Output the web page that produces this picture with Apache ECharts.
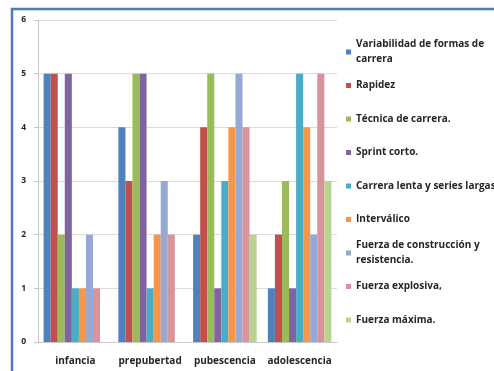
<!DOCTYPE html>
<html>
<head>
<meta charset="utf-8">
<script src="https://cdn.jsdelivr.net/npm/echarts@6/dist/echarts.min.js"></script>
<style>
  html, body { margin: 0; padding: 0; background: #ffffff; }
  #chart { width: 494px; height: 371px; }
</style>
</head>
<body>
<div id="chart"></div>
<script>
// Age stages on the category axis
const categories = ['infancia', 'prepubertad', 'pubescencia', 'adolescencia'];

// Training content series (one value per age stage)
const seriesNames = [
  'Variabilidad de formas de carrera',
  'Rapidez',
  'Técnica de carrera.',
  'Sprint corto.',
  'Carrera lenta y series largas',
  'Interválico',
  'Fuerza de construcción y resistencia.',
  'Fuerza explosiva,',
  'Fuerza máxima.'
];
const variabilidad = [5, 4, 2, 1];
const rapidez      = [5, 3, 4, 2];
const tecnica      = [2, 5, 5, 3];
const sprint       = [5, 5, 1, 1];
const carreraLenta = [1, 1, 3, 5];
const intervalico  = [1, 2, 4, 4];
const fuerzaConst  = [2, 3, 5, 2];
const fuerzaExpl   = [1, 2, 4, 5];
const fuerzaMax    = [0, 0, 2, 3];
const seriesValues = [variabilidad, rapidez, tecnica, sprint, carreraLenta,
                      intervalico, fuerzaConst, fuerzaExpl, fuerzaMax];

// Value axis ticks
const yTicks = [0, 1, 2, 3, 4, 5, 6];

const colors = ['#4f81bd', '#c0504d', '#9bbb59', '#8064a2', '#4bacc6',
                '#f79646', '#95a9d3', '#d9939a', '#b9d38f'];

const font = '"Open Sans", "DejaVu Sans", sans-serif';
const textColor = '#262626';

const chart = echarts.init(document.getElementById('chart'), null, { renderer: 'canvas' });

// One legend block per series so each entry sits on its own row slot;
// the longest names wrap onto a second line under the first.
const legends = seriesNames.map((name, i) => {
  const firstLineY = 52 + i * 33.5;
  const twoLines = name.length > 30;
  const textStyle = {
    fontFamily: font,
    fontSize: 10,
    fontWeight: 'bold',
    color: textColor,
    lineHeight: 15
  };
  if (twoLines) {
    textStyle.width = 134;
    textStyle.overflow = 'break';
    textStyle.padding = [15, 0, 0, 0];
  }
  return {
    data: [name],
    orient: 'vertical',
    left: 346,
    top: twoLines ? firstLineY - 22.5 : firstLineY - 7.5,
    padding: 0,
    icon: 'rect',
    itemWidth: 5,
    itemHeight: 5,
    itemGap: 0,
    selectedMode: false,
    textStyle: textStyle
  };
});

chart.setOption({
  animation: false,
  backgroundColor: '#ffffff',
  color: colors,
  graphic: [{
    type: 'rect',
    silent: true,
    shape: { x: 12, y: 9, width: 700, height: 700 },
    style: { fill: 'none', stroke: '#4a7ebb', lineWidth: 2.5 }
  }],
  legend: legends,
  grid: { left: 38, right: 157, top: 20, bottom: 29, containLabel: false },
  xAxis: {
    type: 'category',
    data: categories,
    axisLine: { show: true, lineStyle: { color: '#c8c8c8', width: 1 } },
    axisTick: { show: false },
    axisLabel: {
      interval: 0,
      fontFamily: font, fontSize: 10, fontWeight: 'bold', color: textColor, margin: 14
    }
  },
  yAxis: {
    type: 'value',
    min: yTicks[0],
    max: yTicks[yTicks.length - 1],
    interval: 1,
    axisLine: { show: true, lineStyle: { color: '#c8c8c8', width: 1 } },
    axisTick: { show: true, length: 4, lineStyle: { color: '#c8c8c8' } },
    splitLine: { show: true, lineStyle: { color: '#dcdcdc', width: 1 } },
    axisLabel: {
      fontFamily: font, fontSize: 8.5, fontWeight: 'bold', color: textColor, margin: 12
    }
  },
  series: seriesNames.map((name, i) => ({
    name: name,
    type: 'bar',
    data: seriesValues[i],
    barGap: '0%',
    barCategoryGap: '15%',
    itemStyle: { color: colors[i] }
  }))
});
</script>
</body>
</html>
